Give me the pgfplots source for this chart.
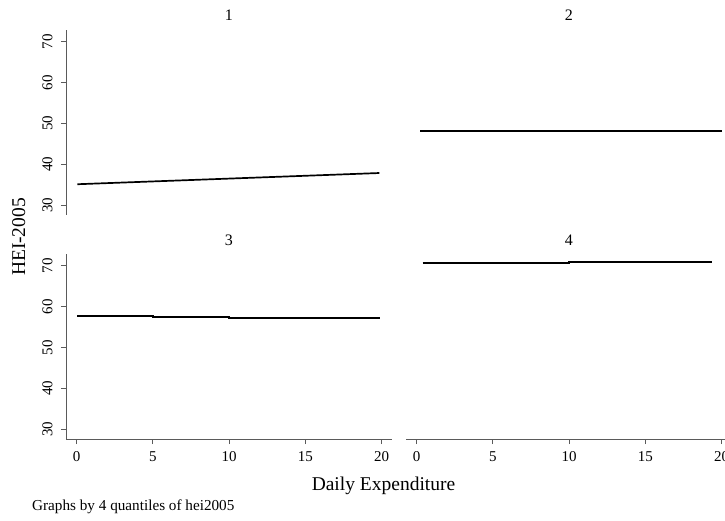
\documentclass[border=0pt]{standalone}
\usepackage{fontspec}
\setmainfont{Liberation Serif}
\usepackage{pgfplots}
\pgfplotsset{compat=1.18}
\definecolor{axgray}{RGB}{90,90,90}
\pgfplotsset{
  panel/.style={
    scale only axis, width=325.7pt, height=185pt,
    xmin=-0.7, xmax=20.66, ymin=27.55, ymax=72.94,
    xtick={0,5,10,15,20}, ytick={30,40,50,60,70},
    tick align=outside, major tick length=5pt,
    axis line style={-, axgray, line width=1pt},
    tick style={axgray, line width=1pt},
    /pgf/number format/assume math mode=true,
    ticklabel style={font=\fontsize{15}{18}\selectfont},
    xticklabel style={yshift=-4pt},
    yticklabel style={rotate=90, anchor=south, yshift=5pt},
    anchor=south west,
  },
  dline/.style={black, line width=1.7pt, mark=none},
}
\begin{document}
\begin{tikzpicture}
% panel 1
\begin{axis}[panel, at={(66pt,305pt)}, hide x axis, axis y line*=left]
\addplot[dline] coordinates {(0.05,35.1) (19.85,37.85)};
\end{axis}
% panel 2
\begin{axis}[panel, at={(406pt,305pt)}, hide x axis, hide y axis]
\addplot[dline] coordinates {(0.24,48.1) (20.0,48.1)};
\end{axis}
% panel 3
\begin{axis}[panel, at={(66pt,81pt)}, axis x line*=bottom, axis y line*=left]
\addplot[dline] coordinates {(0.05,57.7) (5.0,57.7) (5.0,57.45) (10.0,57.45) (10.0,57.2) (19.9,57.2)};
\end{axis}
% panel 4
\begin{axis}[panel, at={(406pt,81pt)}, axis x line*=bottom, hide y axis]
\addplot[dline] coordinates {(0.39,70.74) (10.0,70.74) (10.0,70.9) (19.4,70.9)};
\end{axis}
% titles
\node[anchor=base, font=\fontsize{16}{19}\selectfont] at (228.9pt,499.3pt) {1};
\node[anchor=base, font=\fontsize{16}{19}\selectfont] at (568.9pt,499.3pt) {2};
\node[anchor=base, font=\fontsize{16}{19}\selectfont] at (228.9pt,274pt) {3};
\node[anchor=base, font=\fontsize{16}{19}\selectfont] at (568.9pt,274pt) {4};
% axis titles
\node[anchor=base, rotate=90, font=\fontsize{19.5}{23}\selectfont] at (25pt,283pt) {HEI-2005};
\node[anchor=base, font=\fontsize{19.5}{23}\selectfont] at (383.5pt,30pt) {Daily Expenditure};
\node[anchor=base west, inner sep=0pt, font=\fontsize{15.2}{18}\selectfont] at (32pt,10pt) {Graphs by 4 quantiles of hei2005};
\pgfresetboundingbox
\path[use as bounding box] (0,0) rectangle (725pt,520pt);
\end{tikzpicture}
\end{document}
